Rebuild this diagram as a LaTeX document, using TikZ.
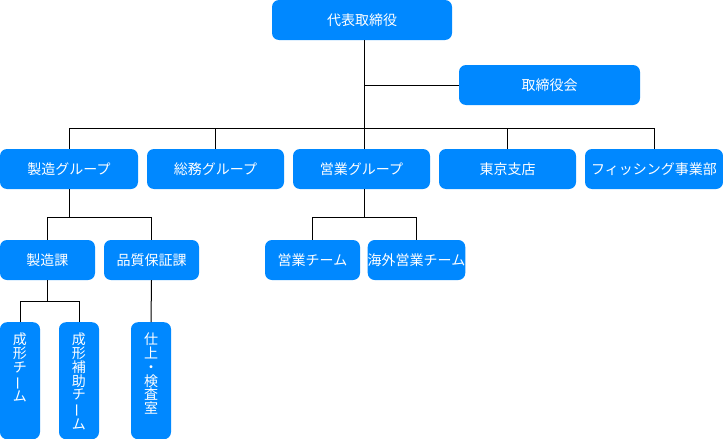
\documentclass[tikz,border=0pt]{standalone}
\usepackage{fontspec}
\setmainfont{Noto Sans CJK JP}
\definecolor{boxblue}{HTML}{0088FF}
\newcommand{\vbar}{\makebox[1em]{\rotatebox[origin=c]{90}{ー}}}
\begin{document}
\begin{tikzpicture}[x=1pt,y=-1pt,
  box/.style={fill=boxblue, rounded corners=7pt, text=white, inner sep=0pt,
    font=\fontsize{14}{14}\selectfont},
  wide/.style={box, minimum width=#1, minimum height=40pt},
  mid/.style={box, minimum width=95pt, minimum height=40pt},
  tall/.style={box, text width=40pt, align=center, text height=22.5pt, text depth=94.5pt,
    font=\fontsize{14}{13.8}\selectfont},
  conn/.style={draw=black, line width=1pt}]
\useasboundingbox (0,0) rectangle (723,439);
% nodes
\node[wide=180pt] (ceo) at (362,20) {代表取締役};
\node[wide=181pt] (board) at (549.5,85) {取締役会};
\node[wide=138pt] (g1) at (69,169) {製造グループ};
\node[wide=137pt] (g2) at (215.5,169) {総務グループ};
\node[wide=137pt] (g3) at (361.5,169) {営業グループ};
\node[wide=137pt] (g4) at (507.5,169) {東京支店};
\node[wide=138pt] (g5) at (654,169) {フィッシング事業部};
\node[mid] (s1) at (47.5,260) {製造課};
\node[mid] (s2) at (151.5,260) {品質保証課};
\node[mid] (s3) at (312.5,260) {営業チーム};
\node[mid] (s4) at (416.5,260) {海外営業チーム};
\node[tall, anchor=north] (t1) at (20,322) {成\\形\\チ\\\vbar\\ム};
\node[tall, anchor=north] (t2) at (79,322) {成\\形\\補\\助\\チ\\\vbar\\ム};
\node[tall, anchor=north] (t3) at (151,322) {仕\\上\\・\\検\\査\\室};
% bus coordinates
\coordinate (bus1) at (0,128);
\coordinate (bus2) at (0,217);
\coordinate (bus3) at (0,301);
\coordinate (ceox) at (364,0);
% connectors
\draw[conn] (ceox |- ceo.south) -- (ceox |- g3.north);
\draw[conn] (ceox |- board.west) -- (board.west);
\draw[conn] (g1.north) -- (g1.north |- bus1) -- (g5.north |- bus1) -- (g5.north);
\draw[conn] (g2.north) -- (g2.north |- bus1);
\draw[conn] (g4.north) -- (g4.north |- bus1);
\draw[conn] (g1.south) -- (g1.south |- bus2);
\draw[conn] (s1.north) -- (s1.north |- bus2) -- (s2.north |- bus2) -- (s2.north);
\draw[conn] (ceox |- g3.south) -- (ceox |- bus2);
\draw[conn] (s3.north) -- (s3.north |- bus2) -- (s4.north |- bus2) -- (s4.north);
\draw[conn] (s1.south) -- (s1.south |- bus3);
\draw[conn] (t1.north) -- (t1.north |- bus3) -- (t2.north |- bus3) -- (t2.north);
\draw[conn] (s2.south) -- (t3.north);
\end{tikzpicture}
\end{document}
